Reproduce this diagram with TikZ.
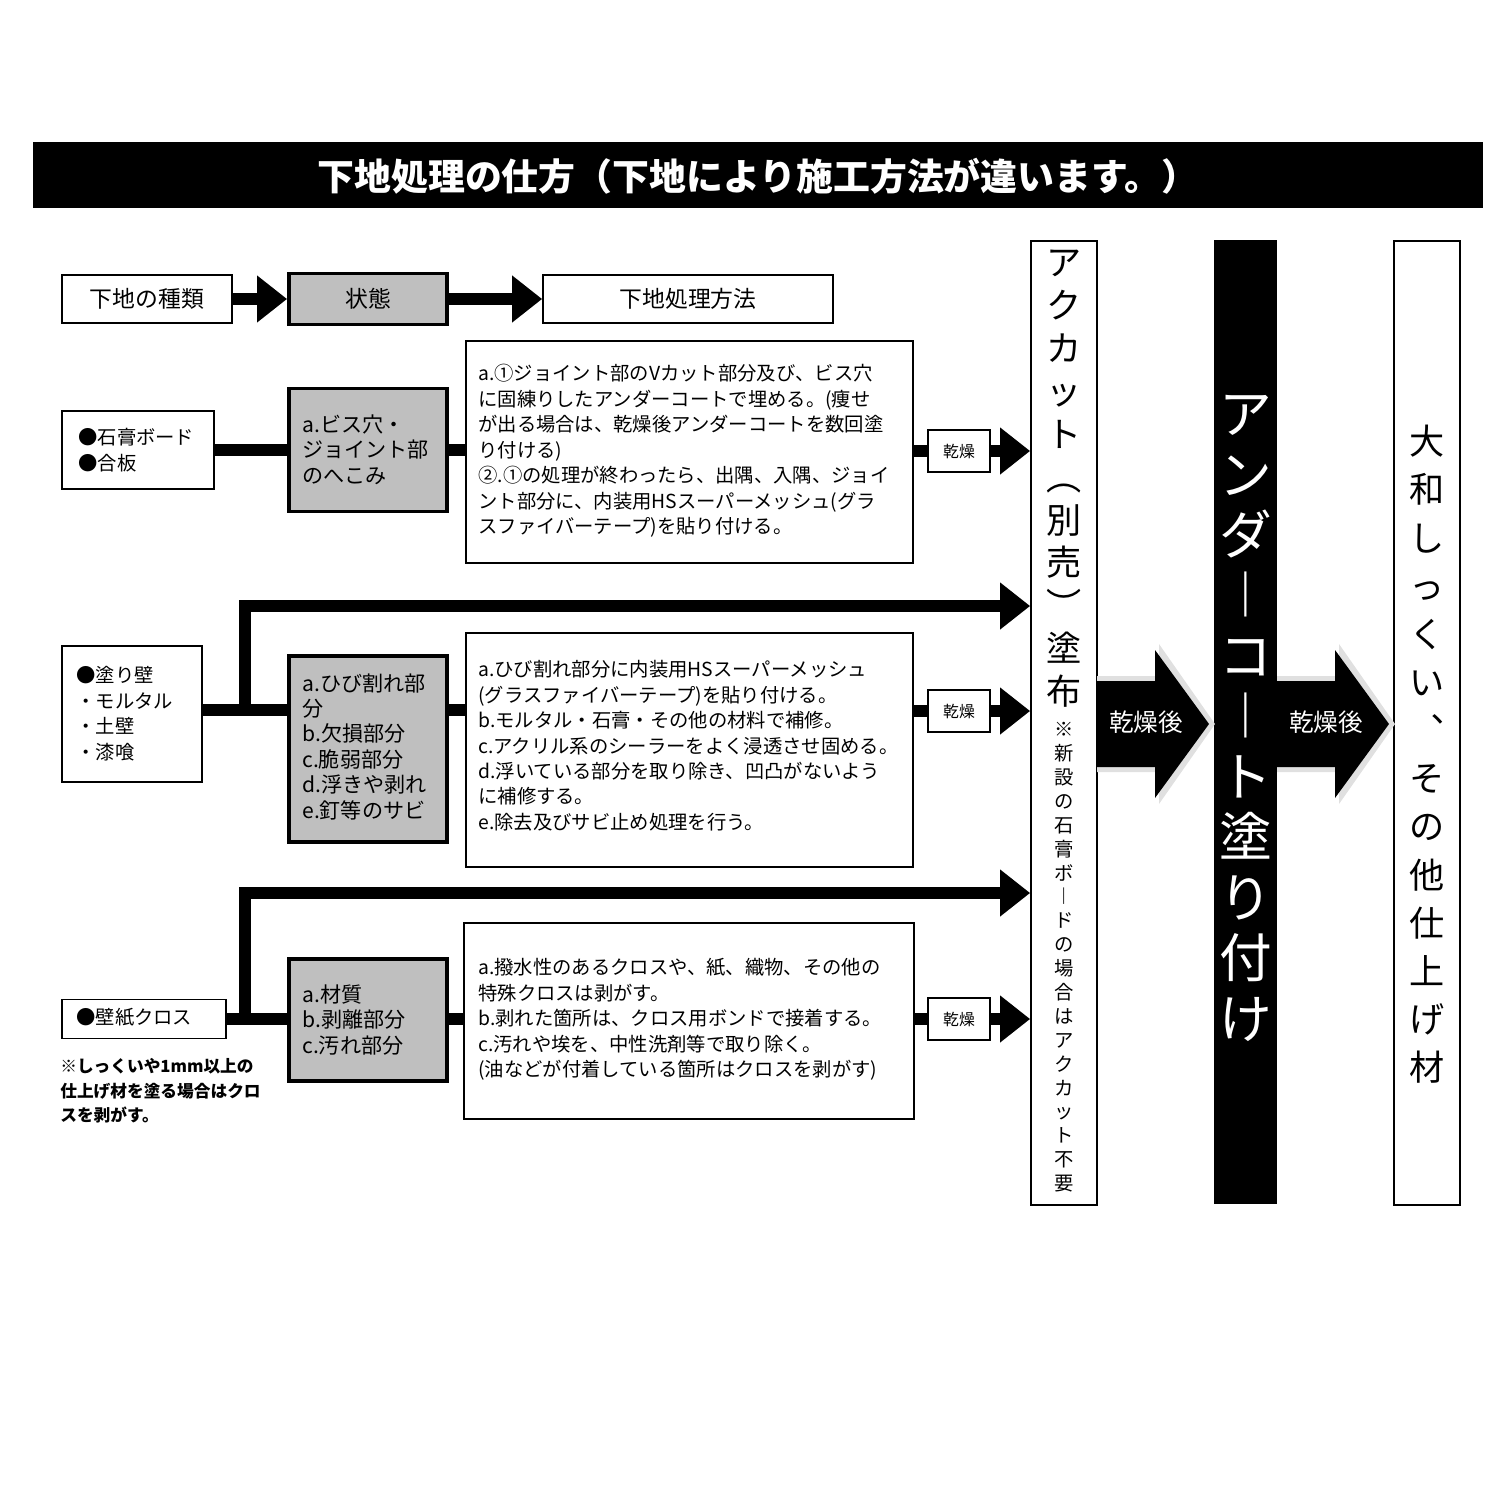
\documentclass[tikz,border=0pt]{standalone}
\usepackage{fontspec}
\setmainfont{Noto Sans CJK JP}
\usetikzlibrary{arrows.meta}
\begin{document}
\begin{tikzpicture}[x=0.02cm,y=-0.02cm,
  wbox/.style={draw,line width=1pt,fill=white,inner sep=0pt},
  gbox/.style={draw,line width=2.2pt,fill=black!25,inner sep=0pt},
  body/.style={font=\fontsize{11}{14.5}\selectfont,align=left,anchor=north west,inner sep=0pt},
  fat/.style={line width=6.8pt},
  fatarr/.style={line width=6.8pt,-{Triangle[length=0.6cm,width=0.9cm]}},
  vcol/.style={align=center,inner sep=0pt,anchor=north}]
\useasboundingbox (0,0) rectangle (1500,1500);
\fill[black] (33,142) rectangle (1483,208);
\node[white,font=\fontsize{21}{24}\selectfont\bfseries] (title) at (758,176) {下地処理の仕方（下地により施工方法が違います。）};
% header row
\node[wbox,minimum width=3.4cm,minimum height=0.96cm] (h1) at (147,299) {\fontsize{13}{15}\selectfont 下地の種類};
\node[gbox,minimum width=3.16cm,minimum height=1.02cm] (h2) at (368,299) {\fontsize{13}{15}\selectfont 状態};
\node[wbox,minimum width=5.8cm,minimum height=0.96cm] (h3) at (688,299) {\fontsize{13}{15}\selectfont 下地処理方法};
\draw[fatarr] (h1.east) -- (h2.west);
\draw[fatarr] (h2.east) -- (h3.west);
% columns
\node[wbox,minimum width=1.32cm,minimum height=19.28cm,anchor=north] (c1) at (1064,240) {};
\node[fill=black,minimum width=1.26cm,minimum height=19.28cm,anchor=north,inner sep=0pt] (c2) at (1245.5,240) {};
\node[wbox,minimum width=1.32cm,minimum height=19.28cm,anchor=north] (c3) at (1427,240) {};
\node[vcol,font=\fontsize{20}{24.4}\selectfont] (c1t) at (1064,250) {ア\\ク\\カ\\ッ\\ト\\︵\\別\\売\\︶\\塗\\布};
\node[vcol,font=\fontsize{11}{13.6}\selectfont] (c1n) at (1064,722) {※\\新\\設\\の\\石\\膏\\ボ\\︱\\ド\\の\\場\\合\\は\\ア\\ク\\カ\\ッ\\ト\\不\\要};
\node[vcol,white,font=\fontsize{30}{34.4}\selectfont] (c2t) at (1245.5,395) {ア\\ン\\ダ\\︱\\コ\\︱\\ト\\塗\\り\\付\\け};
\node[vcol,font=\fontsize{20}{27.4}\selectfont] (c3t) at (1427,425) {大\\和\\し\\っ\\く\\い\\︑\\そ\\の\\他\\仕\\上\\げ\\材};
% big arrows
\foreach \xa/\nm in {1097/ba1,1277/ba2}{
  \fill[black!12] (\xa,676) -- (\xa+62,676) -- (\xa+62,644) -- (\xa+118,724) -- (\xa+62,804) -- (\xa+62,772) -- (\xa,772) -- cycle;
  \fill[black] (\xa,681) -- (\xa+58,681) -- (\xa+58,650) -- (\xa+112,724) -- (\xa+58,798) -- (\xa+58,767) -- (\xa,767) -- cycle;
  \node[white,font=\fontsize{14}{16}\selectfont] (\nm) at (\xa+49,722) {乾燥後};
}
% row 1
\node[wbox,minimum width=3.04cm,minimum height=1.56cm] (l1) at (138,450) {};
\node[body,font=\fontsize{11}{14.5}\selectfont] at (78,428) {●石膏ボード\\●合板};
\node[gbox,minimum width=3.16cm,minimum height=2.46cm] (s1) at (368,450) {};
\node[body,font=\fontsize{12}{14.5}\selectfont] at (302,414) {a.ビス穴・\\ジョイント部\\のへこみ};
\node[wbox,minimum width=8.94cm,minimum height=4.44cm,anchor=north west] (t1) at (465,340) {};
\node[body] at (478,364) {a.①ジョイント部のVカット部分及び、ビス穴\\に固練りしたアンダーコートで埋める。(痩せ\\が出る場合は、乾燥後アンダーコートを数回塗\\り付ける)\\②.①の処理が終わったら、出隅、入隅、ジョイ\\ント部分に、内装用HSスーパーメッシュ(グラ\\スファイバーテープ)を貼り付ける。};
\node[wbox,minimum width=1.24cm,minimum height=0.84cm] (d1) at (959,451) {\fontsize{9}{11}\selectfont 乾燥};
\draw[fat] (l1.east) -- (s1.west);
\draw[fat] (s1.east) -- (s1.east-|t1.west);
\draw[fat] (t1.east|-d1.west) -- (d1.west);
\draw[fatarr] (d1.east) -- (d1.east-|c1.west);
% row 2
\node[wbox,minimum width=2.8cm,minimum height=2.72cm] (l2) at (132,714) {};
\node[body] at (76,666) {●塗り壁\\ ・モルタル\\ ・土壁\\ ・漆喰};
\node[gbox,minimum width=3.16cm,minimum height=3.72cm] (s2) at (368,749) {};
\node[body,font=\fontsize{12}{14.5}\selectfont] at (302,673) {a.ひび割れ部\\分\\b.欠損部分\\c.脆弱部分\\d.浮きや剥れ\\e.釘等のサビ};
\node[wbox,minimum width=8.94cm,minimum height=4.68cm,anchor=north west] (t2) at (465,632) {};
\node[body] at (478,660) {a.ひび割れ部分に内装用HSスーパーメッシュ\\(グラスファイバーテープ)を貼り付ける。\\b.モルタル・石膏・その他の材料で補修。\\c.アクリル系のシーラーをよく浸透させ固める。\\d.浮いている部分を取り除き、凹凸がないよう\\に補修する。\\e.除去及びサビ止め処理を行う。};
\node[wbox,minimum width=1.24cm,minimum height=0.84cm] (d2) at (959,711) {\fontsize{9}{11}\selectfont 乾燥};
\coordinate (j2) at (245,710);
\coordinate (k2) at (245,606);
\draw[fat] (l2.east|-j2) -- (s2.west|-j2);
\draw[fat] (s2.east|-j2) -- (t2.west|-j2);
\draw[fat] (t2.east|-d2.west) -- (d2.west);
\draw[fatarr] (d2.east) -- (d2.east-|c1.west);
\draw[line width=6.8pt,-{Triangle[length=0.6cm,width=0.9cm]}] ([yshift=0.06cm]j2) -- (k2) -- (k2-|c1.west);
% row 3
\node[wbox,minimum width=3.28cm,minimum height=0.78cm] (l3) at (144,1019) {};
\node[body] at (76,1008) {●壁紙クロス};
\node[body,font=\fontsize{9.5}{14}\selectfont\bfseries] (n3) at (60,1058) {※しっくいや1mm以上の\\仕上げ材を塗る場合はクロ\\スを剥がす。};
\node[gbox,minimum width=3.16cm,minimum height=2.44cm] (s3) at (368,1020) {};
\node[body,font=\fontsize{12}{14.5}\selectfont] at (302,984) {a.材質\\b.剥離部分\\c.汚れ部分};
\node[wbox,minimum width=9cm,minimum height=3.92cm,anchor=north west] (t3) at (463,922) {};
\node[body] at (478,958) {a.撥水性のあるクロスや、紙、織物、その他の\\特殊クロスは剥がす。\\b.剥れた箇所は、クロス用ボンドで接着する。\\c.汚れや埃を、中性洗剤等で取り除く。\\(油などが付着している箇所はクロスを剥がす)};
\node[wbox,minimum width=1.24cm,minimum height=0.84cm] (d3) at (959,1019) {\fontsize{9}{11}\selectfont 乾燥};
\coordinate (j3) at (245,1019);
\coordinate (k3) at (245,893);
\draw[fat] (l3.east) -- (s3.west|-l3.east);
\draw[fat] (s3.east|-j3) -- (t3.west|-j3);
\draw[fat] (t3.east|-d3.west) -- (d3.west);
\draw[fatarr] (d3.east) -- (d3.east-|c1.west);
\draw[line width=6.8pt,-{Triangle[length=0.6cm,width=0.9cm]}] ([yshift=0.06cm]j3) -- (k3) -- (k3-|c1.west);
\end{tikzpicture}
\end{document}
